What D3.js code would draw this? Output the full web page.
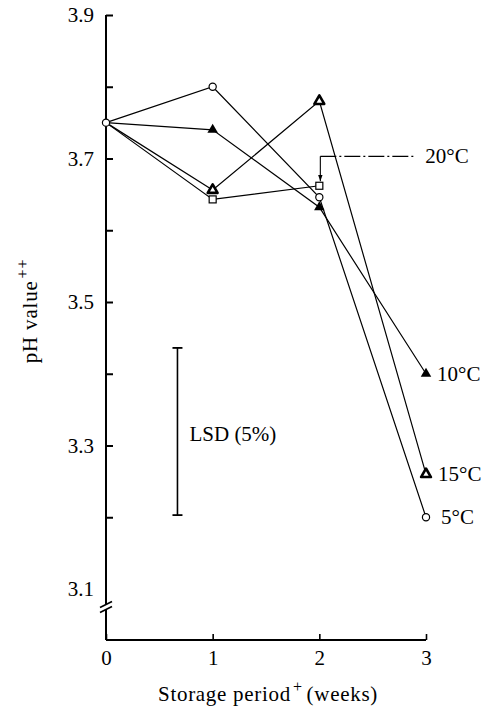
<!DOCTYPE html>
<html>
<head>
<meta charset="utf-8">
<script src="https://cdn.jsdelivr.net/npm/d3@7"></script>
<style>
  html, body { margin: 0; padding: 0; background: #fff; }
  svg { display: block; }
  svg text { font-family: "Liberation Serif", "DejaVu Serif", serif !important; fill: #000 !important; }
</style>
</head>
<body>
<svg id="chart" width="484" height="709"></svg>
<script>
// Storage period (weeks)
const weeks = [0, 1, 2, 3];

// pH readings per storage temperature
const ph5  = [3.75, 3.80, 3.646, 3.20];
const ph10 = [3.75, 3.74, 3.632, 3.40];
const ph15 = [3.75, 3.656, 3.78, 3.26];
const ph20 = [3.75, 3.643, 3.662];

const seriesNames = ["5°C", "10°C", "15°C", "20°C"];

// Y axis ticks and which of them carry labels
const yTicks = [3.2, 3.3, 3.4, 3.5, 3.6, 3.7, 3.8, 3.9];
const yLabels = [3.1, 3.3, 3.5, 3.7, 3.9];

// Least significant difference bar
const lsdLow = 3.203;
const lsdHigh = 3.436;
const lsdWeek = 0.67;

const FONT = "'Liberation Serif', 'DejaVu Serif', serif";
const FS = 21;

const svg = d3.select("#chart");
const styleText = sel => sel.style("font-family", FONT).style("font-size", FS + "px").style("fill", "#000");

const x = d3.scaleLinear().domain([0, 3]).range([106, 426]);
const y = d3.scaleLinear().domain([3.1, 3.9]).range([589, 15]);
const axisBottomY = 640;

// ---- axes ----
const yAxis = d3.axisLeft(y)
  .tickValues(yTicks)
  .tickSize(-7)
  .tickPadding(12)
  .tickFormat(d => yLabels.some(v => Math.abs(v - d) < 1e-6) ? d3.format(".1f")(d) : "");

const gy = svg.append("g").attr("transform", `translate(${x(0)},0)`).call(yAxis);
gy.select(".domain").remove();
gy.selectAll(".tick line").attr("stroke", "#000").attr("stroke-width", 2);
gy.selectAll(".tick text").call(styleText);

// 3.1 label sits below the tick run, without a tick mark
gy.append("text")
  .attr("x", -12).attr("y", y(3.1)).attr("dy", "0.32em")
  .attr("text-anchor", "end")
  .text(d3.format(".1f")(3.1))
  .call(styleText);

// Y axis line with a break near the bottom
const breakY = y(3.1) + 18;
svg.append("line")
  .attr("x1", x(0)).attr("x2", x(0))
  .attr("y1", y(3.9)).attr("y2", breakY - 3)
  .attr("stroke", "#000").attr("stroke-width", 2);
svg.append("line")
  .attr("x1", x(0)).attr("x2", x(0))
  .attr("y1", breakY + 3).attr("y2", axisBottomY)
  .attr("stroke", "#000").attr("stroke-width", 2);
[-2.5, 2.5].forEach(off => {
  svg.append("line")
    .attr("x1", x(0) - 6).attr("y1", breakY + off + 3)
    .attr("x2", x(0) + 6).attr("y2", breakY + off - 3)
    .attr("stroke", "#000").attr("stroke-width", 1.6);
});

// X axis
const xAxis = d3.axisBottom(x)
  .tickValues(weeks)
  .tickSize(-6)
  .tickPadding(10)
  .tickFormat(d3.format("d"));

const gx = svg.append("g").attr("transform", `translate(0,${axisBottomY})`).call(xAxis);
gx.select(".domain").remove();
gx.selectAll(".tick line").attr("stroke", "#000").attr("stroke-width", 1.6);
gx.selectAll(".tick text").call(styleText);
svg.append("line")
  .attr("x1", x(0)).attr("x2", x(3))
  .attr("y1", axisBottomY).attr("y2", axisBottomY)
  .attr("stroke", "#000").attr("stroke-width", 2);

// Axis titles
const xt = svg.append("text")
  .attr("x", 268).attr("y", 701)
  .attr("text-anchor", "middle")
  .call(styleText)
  .style("letter-spacing", "0.7px");
xt.append("tspan").text("Storage period");
xt.append("tspan").attr("dx", 2).attr("dy", -9).style("font-size", "16px").text("+");
xt.append("tspan").attr("dx", 4).attr("dy", 9).text("(weeks)");

const yt = svg.append("text")
  .attr("transform", `translate(37,${311}) rotate(-90)`)
  .attr("text-anchor", "middle")
  .call(styleText)
  .style("letter-spacing", "0.8px");
yt.append("tspan").text("pH value");
yt.append("tspan").attr("dx", 2).attr("dy", -9).style("font-size", "16px").text("++");

// ---- series lines ----
const line = d3.line().x((d, i) => x(weeks[i])).y(d => y(d));
const allSeries = [ph5, ph10, ph15, ph20];
svg.append("g")
  .selectAll("path")
  .data(allSeries)
  .join("path")
  .attr("d", d => line(d))
  .attr("fill", "none")
  .attr("stroke", "#000")
  .attr("stroke-width", 1.2);

// ---- markers ----
const mk = svg.append("g");

// 5°C: open circles
mk.selectAll("circle.s5").data(ph5).join("circle")
  .attr("class", "s5")
  .attr("cx", (d, i) => x(weeks[i])).attr("cy", d => y(d))
  .attr("r", 3.6).attr("fill", "#fff").attr("stroke", "#000").attr("stroke-width", 1.2);

// 20°C: open squares
mk.selectAll("rect.s20").data(ph20.slice(1)).join("rect")
  .attr("class", "s20")
  .attr("x", (d, i) => x(weeks[i + 1]) - 3.5).attr("y", d => y(d) - 3.5)
  .attr("width", 7).attr("height", 7)
  .attr("fill", "#fff").attr("stroke", "#000").attr("stroke-width", 1.2);

// 15°C: bold open triangles
const tri15 = d3.symbol().type(d3.symbolTriangle).size(42);
mk.selectAll("path.s15").data(ph15.slice(1)).join("path")
  .attr("class", "s15")
  .attr("d", tri15)
  .attr("transform", (d, i) => `translate(${x(weeks[i + 1])},${y(d)})`)
  .attr("fill", "#fff").attr("stroke", "#000").attr("stroke-width", 2.6)
  .attr("stroke-linejoin", "round");

// 10°C: filled triangles
const tri10 = d3.symbol().type(d3.symbolTriangle).size(48);
mk.selectAll("path.s10").data(ph10.slice(1)).join("path")
  .attr("class", "s10")
  .attr("d", tri10)
  .attr("transform", (d, i) => `translate(${x(weeks[i + 1])},${y(d)})`)
  .attr("fill", "#000");

// ---- end labels ----
const endLabel = (val, name, dx) => svg.append("text")
  .attr("x", x(3) + dx).attr("y", y(val)).attr("dy", "0.34em")
  .text(name).call(styleText);
endLabel(ph10[3], seriesNames[1], 11);
endLabel(ph15[3], seriesNames[2], 12);
endLabel(ph5[3], seriesNames[0], 15);

// 20°C leader line with arrow down to the week-2 square
const defs = svg.append("defs");
defs.append("marker")
  .attr("id", "arrow")
  .attr("viewBox", "0 0 10 10").attr("refX", 10).attr("refY", 5)
  .attr("markerWidth", 6).attr("markerHeight", 6)
  .attr("orient", "auto")
  .append("path").attr("d", "M0,1.5 L10,5 L0,8.5 Z").attr("fill", "#000");

const leadY = y(3.703);
svg.append("line")
  .attr("x1", x(2) + 1).attr("x2", x(2) + 1)
  .attr("y1", leadY).attr("y2", y(ph20[2]) - 4.5)
  .attr("stroke", "#000").attr("stroke-width", 1.1)
  .attr("marker-end", "url(#arrow)");
svg.append("line")
  .attr("x1", x(2) + 1).attr("x2", x(2) + 96)
  .attr("y1", leadY).attr("y2", leadY)
  .attr("stroke", "#000").attr("stroke-width", 1.1)
  .attr("stroke-dasharray", "16,3,2,3");
svg.append("text")
  .attr("x", x(2) + 106).attr("y", leadY).attr("dy", "0.34em")
  .text(seriesNames[3]).call(styleText);

// ---- LSD bar ----
const lsdX = x(lsdWeek);
svg.append("line")
  .attr("x1", lsdX).attr("x2", lsdX)
  .attr("y1", y(lsdHigh)).attr("y2", y(lsdLow))
  .attr("stroke", "#000").attr("stroke-width", 1.6);
[lsdHigh, lsdLow].forEach(v => {
  svg.append("line")
    .attr("x1", lsdX - 5).attr("x2", lsdX + 5)
    .attr("y1", y(v)).attr("y2", y(v))
    .attr("stroke", "#000").attr("stroke-width", 1.8);
});
svg.append("text")
  .attr("x", lsdX + 12).attr("y", y((lsdHigh + lsdLow) / 2) + 2).attr("dy", "0.34em")
  .text("LSD (5%)").call(styleText);
</script>
</body>
</html>
